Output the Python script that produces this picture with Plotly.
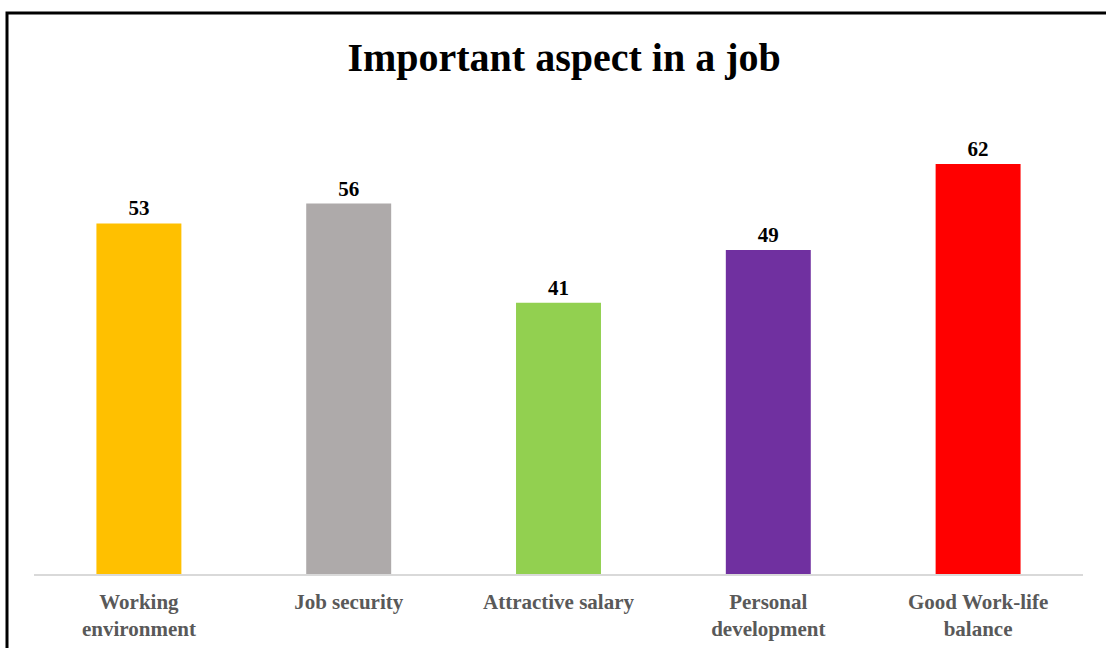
import plotly.graph_objects as go

# Survey results: share of respondents naming each aspect as important
categories = ["Working<br>environment", "Job security", "Attractive salary",
              "Personal<br>development", "Good Work-life<br>balance"]
values = [53, 56, 41, 49, 62]
bar_colors = ["#FFC000", "#AEAAAA", "#92D050", "#7030A0", "#FF0000"]

serif = "Liberation Serif, Times New Roman, serif"

# plot area in pixels
W, H = 1106, 648
ml, mr, mt, mb = 34, 23, 111, 74
pw, ph = W - ml - mr, H - mt - mb

fig = go.Figure(
    go.Bar(
        x=categories,
        y=values,
        marker=dict(color=bar_colors, line=dict(width=0)),
        text=values,
        texttemplate="<b>%{text}</b>",
        textposition="outside",
        textfont=dict(family=serif, size=21, color="#000000"),
        cliponaxis=False,
        width=0.405,
    )
)

# outer frame around the chart (extends past the visible page at right/bottom)
fx0 = (7 - ml) / pw
fy1 = 1 + (mt - 13) / ph
fig.add_shape(type="rect", xref="paper", yref="paper",
              x0=fx0, x1=1.2, y0=-0.5, y1=fy1,
              line=dict(color="#000000", width=3), fillcolor="rgba(0,0,0,0)",
              layer="above")

fig.update_layout(
    width=W, height=H,
    margin=dict(l=ml, r=mr, t=mt, b=mb),
    paper_bgcolor="#FFFFFF",
    plot_bgcolor="#FFFFFF",
    showlegend=False,
    title=dict(text="<b>Important aspect in a job</b>",
               font=dict(family=serif, size=40, color="#000000"),
               x=0.51, xanchor="center", y=0.912, yanchor="middle"),
    xaxis=dict(showgrid=False, showline=True, linecolor="#D9D9D9", linewidth=1.5,
               ticks="", tickfont=dict(family=serif, size=21, color="#595959"),
               tickprefix="<b>", ticksuffix="</b>",
               ticklabelstandoff=8, automargin=False),
    yaxis=dict(range=[0, 70], visible=False, showgrid=False, zeroline=False,
               automargin=False),
    font=dict(family=serif),
)

fig.write_html("out.html")
